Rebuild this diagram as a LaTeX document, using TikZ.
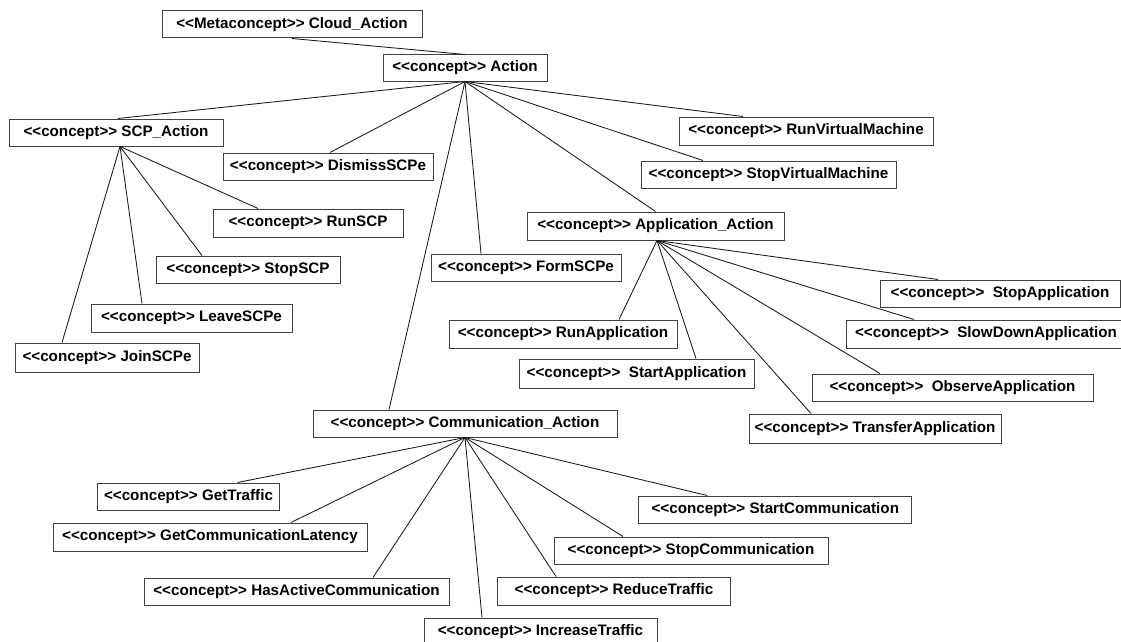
\documentclass[tikz,border=0pt]{standalone}
\usepackage{fontspec}
\newfontfamily\labelfont{Liberation Sans}[Ligatures=TeXOff]
% stereotype guillemets written as two angle brackets
\newcommand\stereo[1]{<\kern0pt<#1>\kern0pt>}
\tikzset{
  cbox/.style={draw=black!75, line width=1pt, rectangle, inner sep=0pt,
    fill=white, font=\labelfont\bfseries\fontsize{15.2}{18}\selectfont},
  edge/.style={draw=black!90, line width=0.85pt}
}
\begin{document}
\begin{tikzpicture}[x=1pt,y=-1pt]
\useasboundingbox (0,0) rectangle (1121,642);
\clip (0,0) rectangle (1121,642);

% top of the hierarchy
\node[cbox, minimum width=260pt, minimum height=27pt] (cloud) at (292,24.5) {\stereo{Metaconcept} Cloud\_Action};
\node[cbox, minimum width=164pt, minimum height=26pt] (action) at (465,68) {\stereo{concept} Action};

% direct children of Action
\node[cbox, minimum width=214pt, minimum height=27pt] (scp) at (116,132.5) {\stereo{concept} SCP\_Action};
\node[cbox, minimum width=210pt, minimum height=27pt] (dismiss) at (328,166.5) {\stereo{concept} DismissSCPe};
\node[cbox, minimum width=254pt, minimum height=28pt] (runvm) at (806,131) {\stereo{concept} RunVirtualMachine};
\node[cbox, minimum width=255pt, minimum height=27pt] (stopvm) at (768.5,174.5) {\stereo{concept} StopVirtualMachine};
\node[cbox, minimum width=257pt, minimum height=28pt] (app) at (655.5,226) {\stereo{concept} Application\_Action};
\node[cbox, minimum width=190pt, minimum height=27pt] (form) at (526,267.5) {\stereo{concept} FormSCPe};
\node[cbox, minimum width=304pt, minimum height=27pt] (comm) at (465,423.5) {\stereo{concept} Communication\_Action};

% SCP actions
\node[cbox, minimum width=190pt, minimum height=28pt] (runscp) at (308,223) {\stereo{concept} RunSCP};
\node[cbox, minimum width=184pt, minimum height=27pt] (stopscp) at (248,269.5) {\stereo{concept} StopSCP};
\node[cbox, minimum width=201pt, minimum height=28pt] (leave) at (191.5,318) {\stereo{concept} LeaveSCPe};
\node[cbox, minimum width=184pt, minimum height=29pt] (join) at (107,357.5) {\stereo{concept} JoinSCPe};

% application actions
\node[cbox, minimum width=240pt, minimum height=27pt] (stopapp) at (1000,293.5) {\stereo{concept}\ \ StopApplication};
\node[cbox, minimum width=280pt, minimum height=28pt] (slowdown) at (986,334) {\stereo{concept}\ \ SlowDownApplication};
\node[cbox, minimum width=228pt, minimum height=28pt] (runapp) at (563,334) {\stereo{concept} RunApplication};
\node[cbox, minimum width=235pt, minimum height=29pt] (startapp) at (636.5,373.5) {\stereo{concept}\ \ StartApplication};
\node[cbox, minimum width=281pt, minimum height=27pt] (observe) at (952.5,387.5) {\stereo{concept}\ \ ObserveApplication};
\node[cbox, minimum width=252pt, minimum height=29pt] (transfer) at (875,428.5) {\stereo{concept} TransferApplication};

% communication actions
\node[cbox, minimum width=182pt, minimum height=27pt] (gettraffic) at (188.5,496.5) {\stereo{concept} GetTraffic};
\node[cbox, minimum width=314pt, minimum height=28pt] (latency) at (210,537) {\stereo{concept} GetCommunicationLatency};
\node[cbox, minimum width=305pt, minimum height=27pt] (hasactive) at (296.5,591.5) {\stereo{concept} HasActiveCommunication};
\node[cbox, minimum width=233pt, minimum height=27pt] (increase) at (540.5,631.5) {\stereo{concept} IncreaseTraffic};
\node[cbox, minimum width=233pt, minimum height=28pt] (reduce) at (614,591) {\stereo{concept} ReduceTraffic};
\node[cbox, minimum width=274pt, minimum height=27pt] (stopcomm) at (691,550.5) {\stereo{concept} StopCommunication};
\node[cbox, minimum width=273pt, minimum height=27pt] (startcomm) at (775.3,509.5) {\stereo{concept} StartCommunication};

% connectors
\path[edge] (cloud.south) -- (action.north);

\path[edge] (action.south) -- ([xshift=2pt]scp.north);
\path[edge] (action.south) -- ([xshift=2pt]dismiss.north);
\path[edge] (action.south) -- ([xshift=-45pt]form.north);
\path[edge] (action.south) -- ([xshift=-76pt]comm.north);
\path[edge] (action.south) -- (app.north);
\path[edge] (action.south) -- ([xshift=-65.5pt]stopvm.north);
\path[edge] (action.south) -- ([xshift=-63pt]runvm.north);

\path[edge] ([xshift=4pt]scp.south) -- ([xshift=-50pt]runscp.north);
\path[edge] ([xshift=4pt]scp.south) -- ([xshift=-46pt]stopscp.north);
\path[edge] ([xshift=4pt]scp.south) -- ([xshift=-49.5pt]leave.north);
\path[edge] ([xshift=4pt]scp.south) -- ([xshift=-45pt]join.north);

\path[edge] ([xshift=1.5pt]app.south) -- ([xshift=-62pt]stopapp.north);
\path[edge] ([xshift=1.5pt]app.south) -- ([xshift=-72pt]slowdown.north);
\path[edge] ([xshift=1.5pt]app.south) -- ([xshift=56pt]runapp.north);
\path[edge] ([xshift=1.5pt]app.south) -- ([xshift=59.5pt]startapp.north);
\path[edge] ([xshift=1.5pt]app.south) -- ([xshift=-72.5pt]observe.north);
\path[edge] ([xshift=1.5pt]app.south) -- ([xshift=-64pt]transfer.north);

\path[edge] (comm.south) -- ([xshift=49pt]gettraffic.north);
\path[edge] (comm.south) -- ([xshift=81pt]latency.north);
\path[edge] (comm.south) -- ([xshift=76.5pt]hasactive.north);
\path[edge] (comm.south) -- ([xshift=-58.5pt]increase.north);
\path[edge] (comm.south) -- ([xshift=-58pt]reduce.north);
\path[edge] (comm.south) -- ([xshift=-68pt]stopcomm.north);
\path[edge] (comm.south) -- ([xshift=-68pt]startcomm.north);
\end{tikzpicture}
\end{document}
